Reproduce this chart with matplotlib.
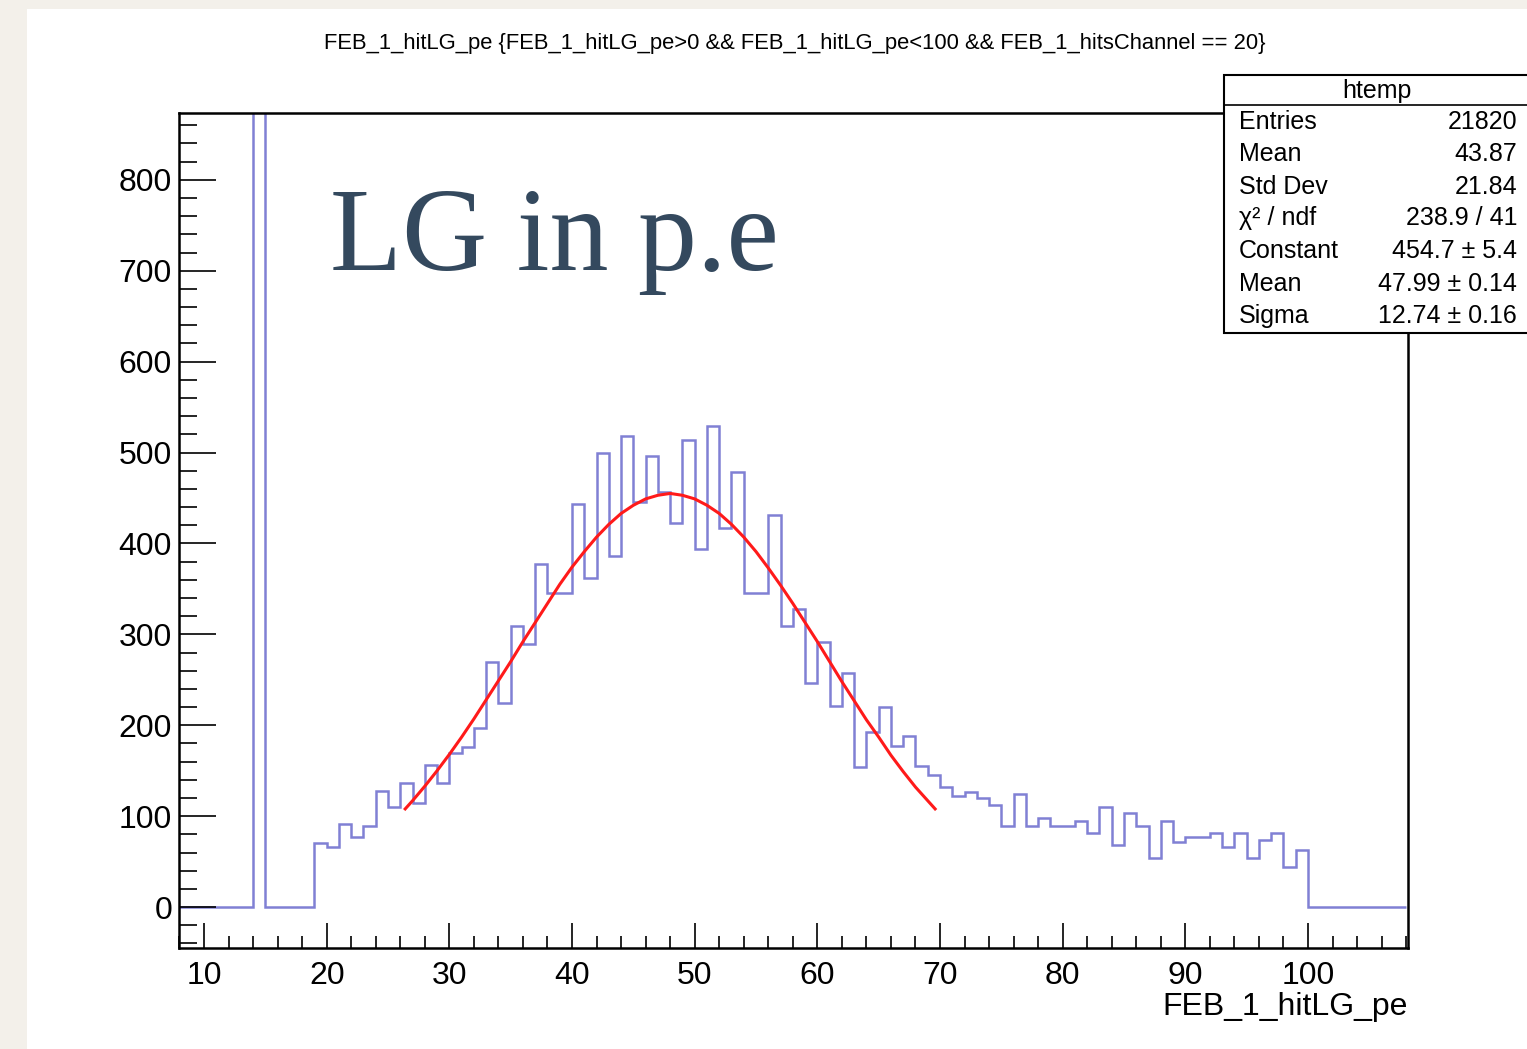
import matplotlib
matplotlib.use("Agg")
import matplotlib.pyplot as plt
from matplotlib.patches import Rectangle
from matplotlib.lines import Line2D
from matplotlib.ticker import MultipleLocator
import numpy as np

# histogram content (1 unit bins from 8 to 108)
bin_lo = 8
bin_hi = 108
spike_bin = 14
spike_count = 3000          # runs off the top of the frame
first_bin = 19
counts = [70, 66, 91, 77, 89, 128, 110, 136, 115, 156,
          136, 169, 176, 197, 270, 224, 309, 289, 377, 345,
          345, 443, 362, 500, 386, 518, 446, 496, 457, 423,
          514, 394, 529, 417, 479, 345, 345, 431, 309, 328,
          247, 292, 221, 257, 154, 193, 220, 177, 188, 155,
          145, 132, 122, 127, 120, 112, 89, 124, 89, 98,
          89, 89, 95, 82, 110, 68, 104, 89, 54, 95,
          72, 77, 77, 81, 66, 81, 54, 74, 81, 44,
          63]

# red gaussian fit curve
fit_x = [26.4, 27, 28, 29, 30, 31, 32, 33, 34, 35, 36, 37, 38, 39, 40,
         41, 42, 43, 44, 45, 46, 47, 48, 49, 50, 51, 52, 53, 54, 55,
         56, 57, 58, 59, 60, 61, 62, 63, 64, 65, 66, 67, 68, 69, 69.6]
fit_y = [108, 117, 133, 150, 168, 187, 207, 228, 249, 270, 292, 313, 334, 355, 374,
         391, 407, 421, 433, 442, 449, 453, 455, 453, 449, 442, 433, 421, 407, 391,
         373, 354, 334, 313, 292, 270, 248, 227, 206, 187, 167, 149, 132, 117, 108]

title = ("FEB_1_hitLG_pe {FEB_1_hitLG_pe>0 && FEB_1_hitLG_pe<100 "
         "&& FEB_1_hitsChannel == 20}")
xlabel = "FEB_1_hitLG_pe"
stat_names = ["Entries", "Mean", "Std Dev", "\u03c7\u00b2 / ndf",
              "Constant", "Mean", "Sigma"]
stat_values = ["21820", "43.87", "21.84", "238.9 / 41",
               "454.7 \u00b1 5.4", "47.99 \u00b1 0.14", "12.74 \u00b1 0.16"]

plt.rcParams["font.family"] = ["Liberation Sans", "DejaVu Sans"]

W, H = 1527, 1049
fig = plt.figure(figsize=(W / 100, H / 100), dpi=100)
fig.patch.set_facecolor("#f3f0ea")


def fx(px):
    return px / W


def fy(py):
    return 1 - py / H


# white slide panel
fig.add_artist(Rectangle((fx(27), 0), 1, fy(9), transform=fig.transFigure,
                         facecolor="white", edgecolor="none", zorder=-1))

ax = fig.add_axes([fx(179), fy(948), fx(1408) - fx(179), fy(113) - fy(948)])
ax.set_facecolor("none")

edges = np.arange(bin_lo, bin_hi + 1)
h = np.zeros(len(edges) - 1)
h[spike_bin - bin_lo] = spike_count
h[first_bin - bin_lo:first_bin - bin_lo + len(counts)] = counts

ax.stairs(h, edges, color="#8080d4", lw=1.8, baseline=None)
ax.plot(fit_x, fit_y, color="#ff1a1a", lw=2.2)

ax.set_xlim(7.96, 108.15)
ax.set_ylim(-45, 873.5)

for s in ax.spines.values():
    s.set_linewidth(1.8)
ax.xaxis.set_major_locator(MultipleLocator(10))
ax.xaxis.set_minor_locator(MultipleLocator(2))
ax.yaxis.set_major_locator(MultipleLocator(100))
ax.yaxis.set_minor_locator(MultipleLocator(20))
ax.tick_params(axis="x", which="major", direction="in", length=18, width=1.2,
               labelsize=23, pad=9)
ax.tick_params(axis="x", which="minor", direction="in", length=9, width=1.2)
ax.tick_params(axis="y", which="major", direction="in", length=26.5, width=1.2,
               labelsize=23, pad=5)
ax.tick_params(axis="y", which="minor", direction="in", length=13, width=1.2)

ax.set_xlabel(xlabel, loc="right", fontsize=23)
ax.xaxis.set_label_coords(1.0, -0.053)

fig.text(fx(795), fy(44), title, ha="center", va="center", fontsize=15.8)

# stats box
fig.add_artist(Rectangle((fx(1224), fy(333)), 1, fy(75) - fy(333),
                         transform=fig.transFigure, facecolor="white",
                         edgecolor="black", lw=1.5, zorder=2))
fig.add_artist(Line2D([fx(1224), 1.0], [fy(105), fy(105)],
                      transform=fig.transFigure, color="black", lw=1.2, zorder=2.5))
fig.text(fx(1377), fy(91), "htemp", ha="center", va="center", fontsize=18, zorder=3)
row_y = [122, 154, 187, 218, 251, 284, 316]
for name, val, py in zip(stat_names, stat_values, row_y):
    fig.text(fx(1239), fy(py), name, ha="left", va="center", fontsize=18, zorder=3)
    fig.text(fx(1517), fy(py), val, ha="right", va="center", fontsize=18, zorder=3)

fig.text(fx(330), fy(270), "LG in p.e", family="Liberation Serif",
         fontsize=85, color="#34495e", ha="left", va="baseline")

fig.savefig("out.png", dpi=100, facecolor=fig.get_facecolor())
